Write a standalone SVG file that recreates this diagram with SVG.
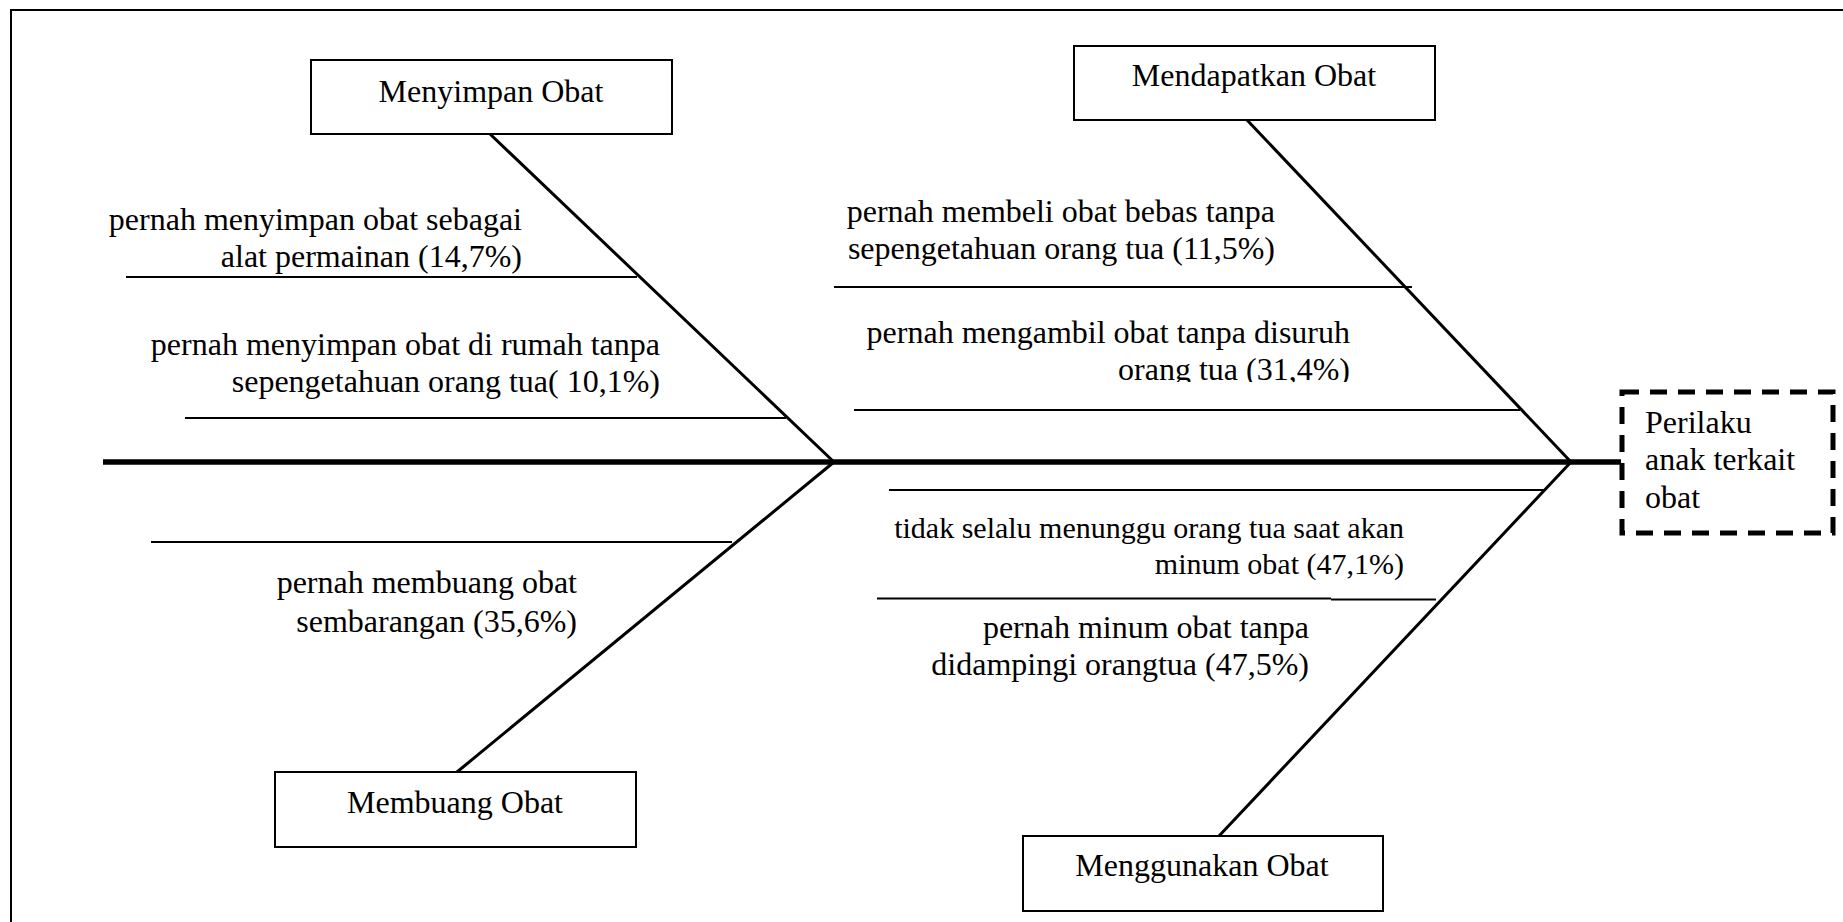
<svg xmlns="http://www.w3.org/2000/svg" width="1843" height="922" viewBox="0 0 1843 922">
  <style>
    text { font-family: "Liberation Serif", "Times New Roman", serif; font-size: 32px; fill: #000; }
    .lbl { text-anchor: end; }
    .small { font-size: 30px; }
    .ttl { text-anchor: middle; }
    .box { fill: #fff; stroke: #000; stroke-width: 2; }
    .bone { stroke: #000; stroke-width: 3; fill: none; stroke-linecap: round; }
    .rib { stroke: #000; stroke-width: 2; fill: none; }
    .spine { stroke: #000; stroke-width: 5.5; fill: none; }
    .head { fill: #fff; stroke: #000; stroke-width: 5; stroke-dasharray: 17 11; }
  </style>
  <defs>
    <clipPath id="cutoff">
      <rect x="0" y="0" width="1843" height="382"/>
    </clipPath>
  </defs>

  <rect width="1843" height="922" fill="#fff"/>
  <!-- outer frame (only top and left edges fall inside the page) -->
  <path d="M11,940 V10 H1860" fill="none" stroke="#000" stroke-width="2"/>

  <!-- connectors: spine, bones and ribs -->
  <g id="connectors">
    <line class="spine" x1="103" y1="462" x2="1621" y2="462"/>
    <line class="bone" x1="490" y1="134" x2="834" y2="462"/>
    <line class="bone" x1="834" y1="462" x2="457" y2="772"/>
    <line class="bone" x1="1247" y1="120" x2="1571" y2="462"/>
    <line class="bone" x1="1571" y1="462" x2="1219" y2="836"/>

    <line class="rib" x1="126" y1="277" x2="637" y2="277"/>
    <line class="rib" x1="185" y1="418" x2="786" y2="418"/>
    <line class="rib" x1="834" y1="287" x2="1412" y2="287"/>
    <line class="rib" x1="854" y1="410" x2="1520" y2="410"/>
    <line class="rib" x1="151" y1="542" x2="732" y2="542"/>
    <line class="rib" x1="889" y1="490" x2="1545" y2="490"/>
    <line class="rib" x1="877" y1="598.5" x2="1331" y2="598.5" stroke-width="1.3"/>
    <line class="rib" x1="1331" y1="599.5" x2="1436" y2="599.5"/>
  </g>

  <!-- category: Menyimpan Obat -->
  <g id="menyimpan">
    <rect class="box" x="311" y="60" width="361" height="74"/>
    <text class="ttl" x="491" y="101.5">Menyimpan Obat</text>
    <text class="lbl" x="522" y="230">pernah menyimpan obat sebagai</text>
    <text class="lbl" x="522" y="267">alat permainan (14,7%)</text>
    <text class="lbl" x="660" y="355">pernah menyimpan obat di rumah tanpa</text>
    <text class="lbl" x="660" y="392">sepengetahuan orang tua( 10,1%)</text>
  </g>

  <!-- category: Mendapatkan Obat -->
  <g id="mendapatkan">
    <rect class="box" x="1074" y="46" width="361" height="74"/>
    <text class="ttl" x="1254" y="86">Mendapatkan Obat</text>
    <text class="lbl" x="1275" y="222">pernah membeli obat bebas tanpa</text>
    <text class="lbl" x="1275" y="258.5">sepengetahuan orang tua (11,5%)</text>
    <text class="lbl" x="1350" y="343">pernah mengambil obat tanpa disuruh</text>
    <text class="lbl" x="1350" y="380" clip-path="url(#cutoff)">orang tua (31,4%)</text>
  </g>

  <!-- category: Membuang Obat -->
  <g id="membuang">
    <rect class="box" x="275" y="772" width="361" height="75"/>
    <text class="ttl" x="455" y="813">Membuang Obat</text>
    <text class="lbl" x="577" y="593">pernah membuang obat</text>
    <text class="lbl" x="577" y="632">sembarangan (35,6%)</text>
  </g>

  <!-- category: Menggunakan Obat -->
  <g id="menggunakan">
    <rect class="box" x="1023" y="836" width="360" height="75"/>
    <text class="ttl" x="1202" y="876">Menggunakan Obat</text>
    <text class="lbl small" x="1404" y="537.5">tidak selalu menunggu orang tua saat akan</text>
    <text class="lbl small" x="1404" y="574">minum obat (47,1%)</text>
    <text class="lbl" x="1309" y="638">pernah minum obat tanpa</text>
    <text class="lbl" x="1309" y="675">didampingi orangtua (47,5%)</text>
  </g>

  <!-- effect (head of the fish) -->
  <g id="effect">
    <rect class="head" x="1622" y="392" width="211" height="141"/>
    <text x="1645" y="433">Perilaku</text>
    <text x="1645" y="470">anak terkait</text>
    <text x="1645" y="508">obat</text>
  </g>
</svg>
